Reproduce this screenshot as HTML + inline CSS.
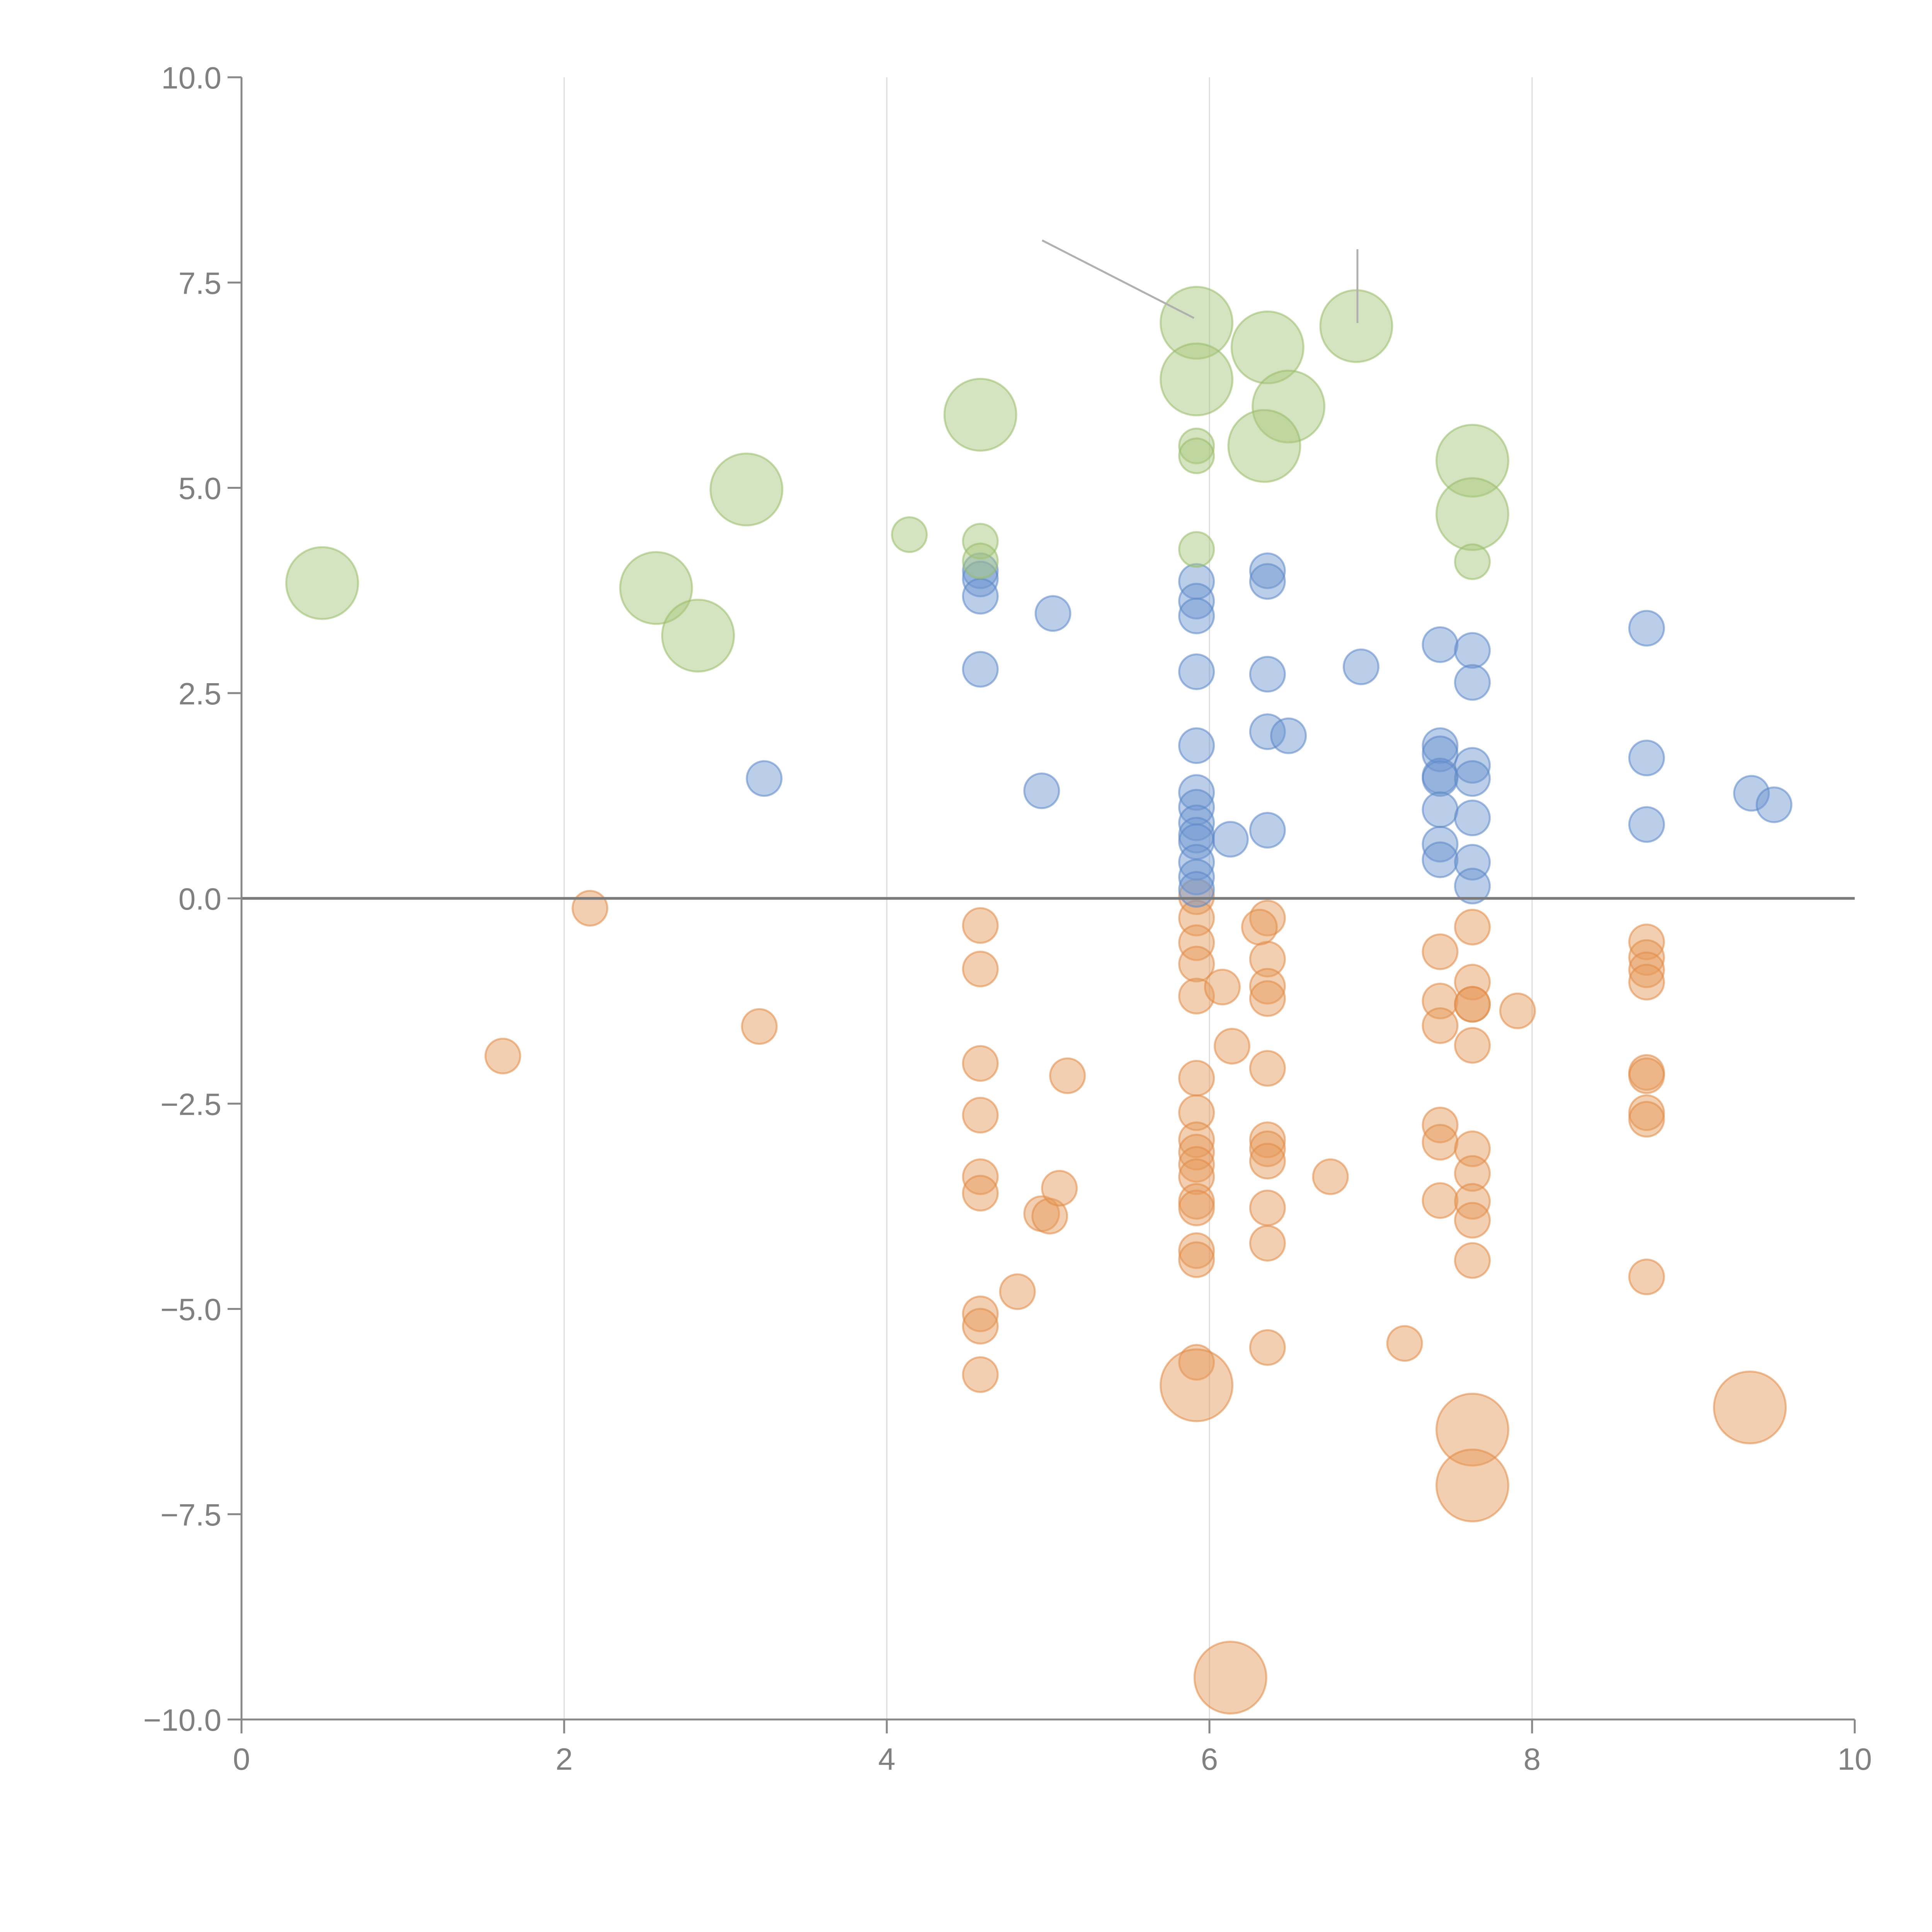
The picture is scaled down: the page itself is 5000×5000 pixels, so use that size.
<!DOCTYPE html>
<html><head><meta charset="utf-8"><style>
html,body{margin:0;padding:0;background:#fff;width:5000px;height:5000px;overflow:hidden}
svg{display:block}
svg text{font-family:"Liberation Sans",Arial,sans-serif;fill:#808080}
</style></head><body>
<svg id="chart" width="5000" height="5000" viewBox="0 0 5000 5000" xmlns="http://www.w3.org/2000/svg">
<g id="grid"></g>
<g id="marks"></g>
<g id="axes"></g>
</svg>
<script>
const xTicks=[0,2,4,6,8,10];
const yTicks=[10,7.5,5,2.5,0,-2.5,-5,-7.5,-10];
const yTickLabels=["10.0","7.5","5.0","2.5","0.0","\u22122.5","\u22125.0","\u22127.5","\u221210.0"];

const greenX=[0.50,2.57,2.83,3.13,4.14,4.58,4.58,4.58,5.92,5.92,5.92,5.92,5.92,6.36,6.49,6.34,6.91,7.63,7.63,7.63];
const greenY=[3.84,3.78,3.20,4.98,4.43,5.89,4.35,4.11,7.01,6.32,5.51,5.39,4.25,6.71,5.99,5.51,6.97,5.33,4.68,4.10];
const greenSize=[2,2,2,2,1,2,1,1,2,2,1,1,1,2,2,2,2,2,2,1];

const blueX=[3.24,4.58,4.58,4.58,4.58,5.03,4.96,5.92,5.92,5.92,5.92,5.92,5.92,5.92,5.92,5.92,5.92,5.92,5.92,5.92,6.13,6.36,6.36,6.36,6.36,6.36,6.49,6.94,7.43,7.43,7.43,7.43,7.43,7.43,7.43,7.43,7.63,7.63,7.63,7.63,7.63,7.63,7.63,8.71,8.71,8.71,9.36,9.50];
const blueY=[1.46,3.99,3.89,3.68,2.79,3.47,1.31,3.86,3.62,3.44,2.76,1.86,1.29,1.11,0.92,0.77,0.69,0.44,0.26,0.11,0.72,3.99,3.86,2.73,2.03,0.83,1.98,2.82,3.09,1.86,1.76,1.49,1.46,1.08,0.66,0.47,3.02,2.63,1.62,1.46,0.98,0.44,0.15,3.29,1.71,0.90,1.28,1.14];

const orangeX=[1.62,2.16,3.21,4.58,4.58,4.58,4.58,4.58,4.58,4.58,4.58,4.58,4.81,4.96,5.01,5.07,5.12,
5.92,5.92,5.92,5.92,5.92,5.92,5.92,5.92,5.92,5.92,5.92,5.92,5.92,5.92,5.92,5.92,5.92,
6.08,6.14,6.36,6.36,6.36,6.36,6.36,6.36,6.36,6.36,6.36,6.36,6.36,6.31,6.75,7.21,
7.43,7.43,7.43,7.43,7.43,7.43,7.63,7.63,7.63,7.63,7.63,7.63,7.63,7.63,7.63,7.63,7.63,7.63,
7.91,8.71,8.71,8.71,8.71,8.71,8.71,8.71,8.71,8.71,9.35,6.13];
const orangeY=[-1.92,-0.12,-1.56,-0.33,-0.86,-2.01,-2.64,-3.39,-3.59,-5.06,-5.21,-5.80,-4.79,-3.84,-3.87,-3.53,-2.16,
0.02,-0.24,-0.54,-0.80,-1.19,-2.19,-2.61,-2.94,-3.09,-3.24,-3.39,-3.69,-3.77,-4.29,-4.40,-5.65,-5.93,
-1.08,-1.80,-0.24,-0.74,-1.07,-1.22,-2.07,-2.94,-3.05,-3.20,-3.77,-4.20,-5.47,-0.35,-3.39,-5.42,
-0.65,-1.25,-1.55,-2.76,-2.97,-3.68,-0.35,-1.02,-1.29,-1.29,-1.79,-3.05,-3.35,-3.69,-3.92,-4.41,-6.47,-7.15,
-1.37,-0.53,-0.72,-0.87,-1.02,-2.12,-2.16,-2.61,-2.69,-4.61,-6.20,-9.49];
const orangeSize=[1,1,1,1,1,1,1,1,1,1,1,1,1,1,1,1,1,
1,1,1,1,1,1,1,1,1,1,1,1,1,1,1,1,2,
1,1,1,1,1,1,1,1,1,1,1,1,1,1,1,1,
1,1,1,1,1,1,1,1,1,1,1,1,1,1,1,1,2,2,
1,1,1,1,1,1,1,1,1,1,2,2];

const NS="http://www.w3.org/2000/svg";
const L=625,R=4800,T=200,B=4450;
function sx(v){return L+(v-0)/(10-0)*(R-L);}
function sy(v){return B-(v+10)/20*(B-T);}
function rad(s){return s===2?93:45;}
function mk(tag,attrs,parent){const e=document.createElementNS(NS,tag);for(const k in attrs)e.setAttribute(k,attrs[k]);parent.appendChild(e);return e;}
const grid=document.getElementById('grid'),marks=document.getElementById('marks'),axes=document.getElementById('axes');

xTicks.forEach(t=>{
  if(t>0&&t<10){
    const g=mk('line',{x1:sx(t),x2:sx(t),y1:T,y2:B,stroke:'#dcdcdc','stroke-width':3},grid);
    
    
  }
});

function series(xs,ys,ss,fill,stroke,name){
  const g=mk('g',{},marks);
  
  
  xs.forEach((x,i)=>{
    const c=mk('circle',{cx:sx(x),cy:sy(ys[i]),r:rad(ss?ss[i]:1),fill:fill,'fill-opacity':0.48,stroke:stroke,'stroke-opacity':0.55,'stroke-width':5},g);
    
    
  });
}
series(orangeX,orangeY,orangeSize,'#e59a5c','#e08a45','orange');
series(blueX,blueY,null,'#6f97d2','#5b86c6','blue');
series(greenX,greenY,greenSize,'#a8c77c','#98bb68','green');

const z=mk('line',{x1:L,x2:R,y1:sy(0),y2:sy(0),stroke:'#7a7a7a','stroke-width':7},axes);



const a1=mk('line',{x1:2697,y1:622,x2:3090,y2:823,stroke:'#b0b0b0','stroke-width':5},axes);


const a2=mk('line',{x1:3513,y1:645,x2:3513,y2:836,stroke:'#b0b0b0','stroke-width':5},axes);



const ya=mk('line',{x1:L,x2:L,y1:T,y2:B,stroke:'#888','stroke-width':5},axes);


const xa=mk('line',{x1:L,x2:R,y1:B,y2:B,stroke:'#888','stroke-width':5},axes);



yTicks.forEach((t,i)=>{
  const tk=mk('line',{x1:L-36,x2:L,y1:sy(t),y2:sy(t),stroke:'#888','stroke-width':5},axes);
  
  
  const tx=mk('text',{x:L-52,y:sy(t)+29,'text-anchor':'end','font-size':80},axes);
  tx.textContent=yTickLabels[i];
  
  
});
xTicks.forEach(t=>{
  const tk=mk('line',{x1:sx(t),x2:sx(t),y1:B,y2:B+36,stroke:'#888','stroke-width':5},axes);
  
  
  const tx=mk('text',{x:sx(t),y:B+130,'text-anchor':'middle','font-size':80},axes);
  tx.textContent=String(t);
  
  
});
</script>
</body></html>
